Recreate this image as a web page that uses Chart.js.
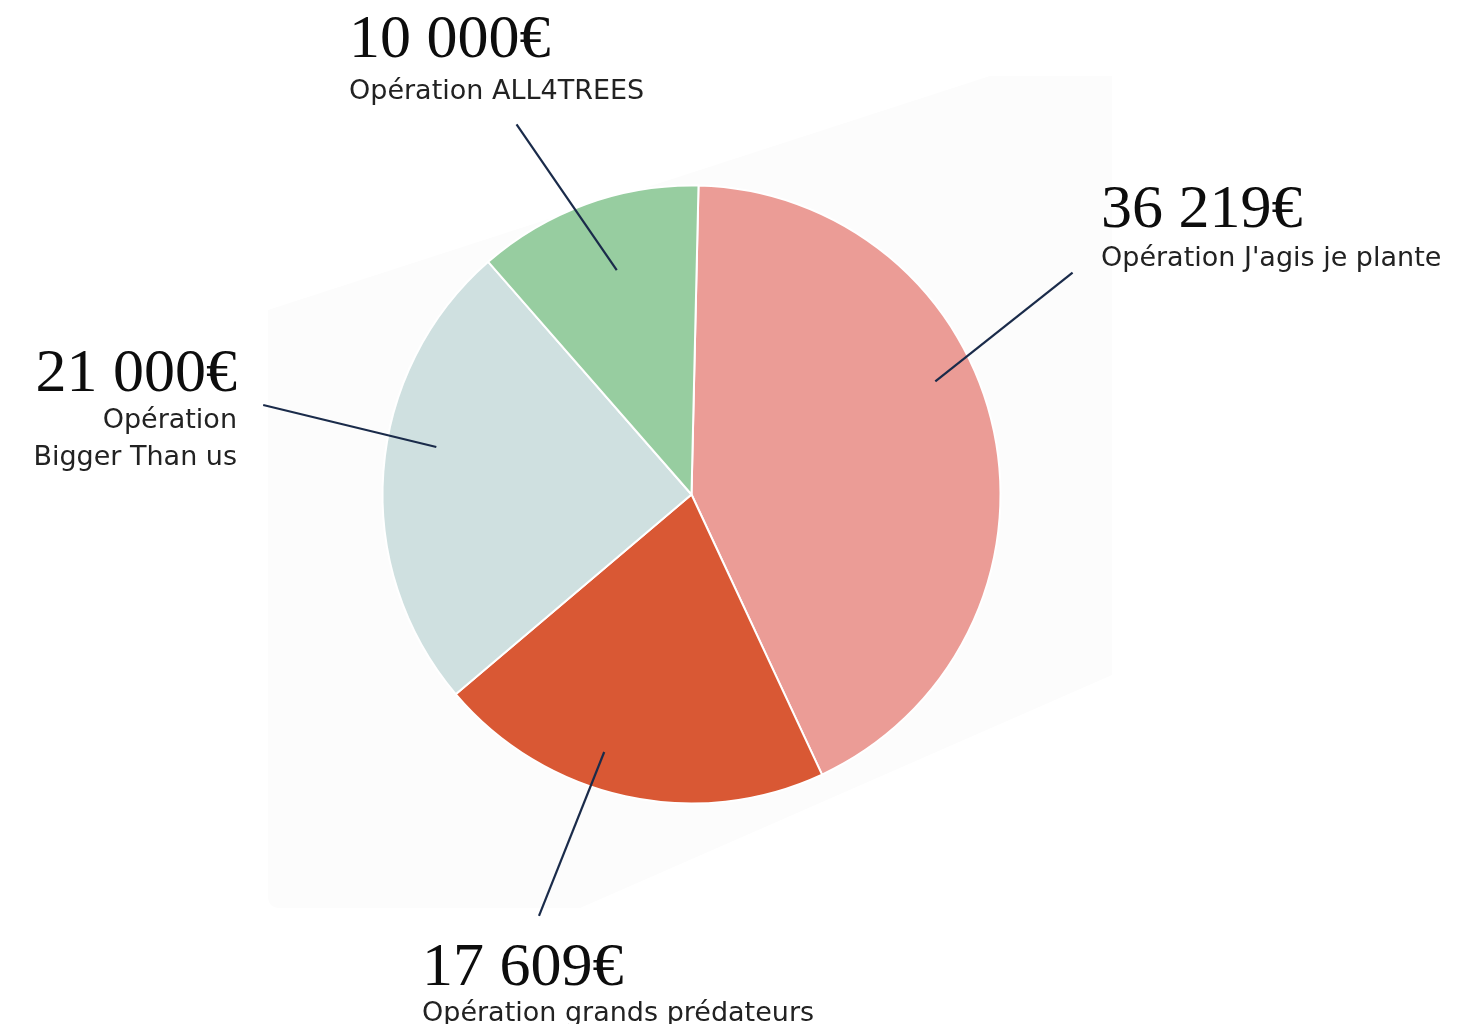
<!DOCTYPE html>
<html>
<head>
<meta charset="utf-8">
<script src="https://cdn.jsdelivr.net/npm/chart.js@4.4.1/dist/chart.umd.min.js"></script>
<style>
  html, body { margin: 0; padding: 0; background: #ffffff; }
  #wrap { width: 1461px; height: 1024px; position: relative; }
</style>
</head>
<body>
<div id="wrap"><canvas id="c" width="1461" height="1024"></canvas></div>
<script>
// ---- data ----
const categories = ["Opération J'agis je plante", "Opération grands prédateurs", "Opération\nBigger Than us", "Opération ALL4TREES"];
const amounts = [36219, 17609, 21000, 10000];
const sliceColors = ['#EB9C96', '#D95834', '#CFE0E0', '#97CDA0'];

// ---- layout of annotations (positions/styles only) ----
const labelLayout = [
  { x: 1101, y: 227, align: 'left',  gap: 39 },
  { x: 422,  y: 985, align: 'left',  gap: 36 },
  { x: 237,  y: 391, align: 'right', gap: 37 },
  { x: 349,  y: 57,  align: 'left',  gap: 42 }
];
// leader line: inner point (fraction across slice angle, fraction of radius), outer point (angle from top in deg, fraction of radius)
const leaderLayout = [
  { frac: 0.415, rIn: 0.87,  outDeg: 59.8,  rOut: 1.427 },
  { frac: 0.585, rIn: 0.88,  outDeg: 199.9, rOut: 1.45 },
  { frac: 0.57,  rIn: 0.84,  outDeg: 281.8, rOut: 1.416 },
  { frac: 0.535, rIn: 0.765, outDeg: 334.7, rOut: 1.325 }
];

function fmt(v) {
  return String(v).replace(/\B(?=(\d{3})+(?!\d))/g, ' ') + '€';
}

const backdropPlugin = {
  id: 'backdrop',
  beforeDraw(chart) {
    const ctx = chart.ctx;
    ctx.save();
    ctx.fillStyle = '#fcfcfc';
    ctx.beginPath();
    ctx.moveTo(268, 310);
    ctx.lineTo(990, 76);
    ctx.lineTo(1112, 76);
    ctx.lineTo(1112, 675);
    ctx.lineTo(580, 908);
    ctx.lineTo(280, 908);
    ctx.quadraticCurveTo(268, 908, 268, 896);
    ctx.closePath();
    ctx.fill();
    ctx.restore();
  }
};

const annotPlugin = {
  id: 'annot',
  afterDraw(chart) {
    const ctx = chart.ctx;
    const meta = chart.getDatasetMeta(0);
    ctx.save();
    meta.data.forEach((arc, i) => {
      const p = arc.getProps(['x', 'y', 'startAngle', 'endAngle', 'outerRadius'], true);
      const L = leaderLayout[i];
      const a1 = p.startAngle + (p.endAngle - p.startAngle) * L.frac;
      const x1 = p.x + Math.cos(a1) * p.outerRadius * L.rIn;
      const y1 = p.y + Math.sin(a1) * p.outerRadius * L.rIn;
      const a2 = (L.outDeg - 90) * Math.PI / 180;
      const x2 = p.x + Math.cos(a2) * p.outerRadius * L.rOut;
      const y2 = p.y + Math.sin(a2) * p.outerRadius * L.rOut;
      ctx.strokeStyle = '#1a2b4a';
      ctx.lineWidth = 2.2;
      ctx.beginPath();
      ctx.moveTo(x1, y1);
      ctx.lineTo(x2, y2);
      ctx.stroke();

      const T = labelLayout[i];
      ctx.textAlign = T.align;
      ctx.textBaseline = 'alphabetic';
      ctx.fillStyle = '#0d0d0d';
      ctx.font = '62px "Liberation Serif", "DejaVu Serif", serif';
      ctx.fillText(fmt(chart.data.datasets[0].data[i]), T.x, T.y);
      ctx.fillStyle = '#222222';
      ctx.font = '27px "DejaVu Sans", sans-serif';
      const lines = chart.data.labels[i].split('\n');
      lines.forEach((ln, k) => {
        ctx.fillText(ln, T.x, T.y + T.gap + k * 37);
      });
    });
    ctx.restore();
  }
};

new Chart(document.getElementById('c'), {
  type: 'pie',
  data: {
    labels: categories,
    datasets: [{
      data: amounts,
      backgroundColor: sliceColors,
      borderColor: '#ffffff',
      borderWidth: 2,
      hoverOffset: 0,
      radius: 309
    }]
  },
  options: {
    responsive: false,
    animation: false,
    rotation: 1.3,
    layout: { padding: { left: 383, right: 461, top: 186, bottom: 221 } },
    plugins: {
      legend: { display: false },
      tooltip: { enabled: false }
    },
    events: []
  },
  plugins: [backdropPlugin, annotPlugin]
});
</script>
</body>
</html>
